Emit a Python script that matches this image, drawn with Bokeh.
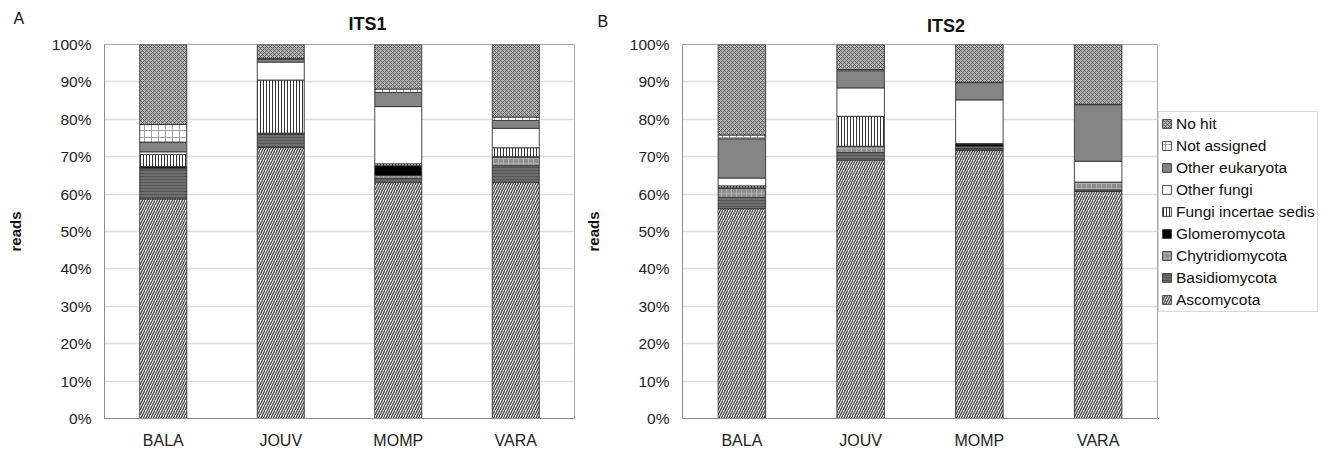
from bokeh.plotting import figure
from bokeh.models import (FactorRange, Range1d, FixedTicker, PrintfTickFormatter,
                          Legend, LegendItem, Title, ColumnDataSource)
from bokeh.layouts import row
from bokeh.embed import file_html
from bokeh.resources import INLINE

sites = ["BALA", "JOUV", "MOMP", "VARA"]
groups = ["Ascomycota", "Basidiomycota", "Chytridiomycota", "Glomeromycota",
          "Fungi incertae sedis", "Other fungi", "Other eukaryota",
          "Not assigned", "No hit"]
y_ticks = [0, 10, 20, 30, 40, 50, 60, 70, 80, 90, 100]

# ITS1 (percent of reads)
its1_ascomycota = [58.7, 72.5, 63.2, 63.2]
its1_basidiomycota = [8.1, 3.5, 1.0, 4.4]
its1_chytridiomycota = [0.2, 0.1, 0.8, 2.3]
its1_glomeromycota = [0.4, 0.2, 2.6, 0.1]
its1_fungi_incertae_sedis = [3.2, 14.2, 0.5, 2.4]
its1_other_fungi = [0.7, 4.8, 15.3, 5.2]
its1_other_eukaryota = [2.6, 0.7, 3.8, 2.1]
its1_not_assigned = [4.7, 0.3, 0.9, 0.9]
its1_no_hit = [21.4, 3.7, 11.9, 19.4]

# ITS2 (percent of reads)
its2_ascomycota = [56.1, 69.1, 71.7, 60.7]
its2_basidiomycota = [3.0, 2.0, 0.6, 0.4]
its2_chytridiomycota = [2.5, 1.6, 0.5, 2.0]
its2_glomeromycota = [0.1, 0.1, 0.6, 0.0]
its2_fungi_incertae_sedis = [0.5, 8.0, 0.1, 0.1]
its2_other_fungi = [2.1, 7.6, 11.7, 5.6]
its2_other_eukaryota = [10.5, 4.6, 4.6, 15.1]
its2_not_assigned = [1.0, 0.3, 0.1, 0.1]
its2_no_hit = [24.2, 6.7, 10.1, 16.0]

its1_series = [its1_ascomycota, its1_basidiomycota, its1_chytridiomycota,
               its1_glomeromycota, its1_fungi_incertae_sedis, its1_other_fungi,
               its1_other_eukaryota, its1_not_assigned, its1_no_hit]
its2_series = [its2_ascomycota, its2_basidiomycota, its2_chytridiomycota,
               its2_glomeromycota, its2_fungi_incertae_sedis, its2_other_fungi,
               its2_other_eukaryota, its2_not_assigned, its2_no_hit]

fills = ["#ffffff", "#6e6e6e", "#8e8e8e", "#000000", "#ffffff",
         "#ffffff", "#858585", "#ffffff", "#b4b4b4"]
hatches = ["/", "-", "+", " ", "|", " ", " ", "+", "x"]
hatch_colors = ["#4a4a4a", "#555555", "#b0b0b0", "#000000", "#333333",
                "#000000", "#000000", "#a0a0a0", "#5a5a5a"]
hatch_scales = [5, 3, 5, 12, 3, 12, 12, 7, 4]
hatch_weights = [1.4, 1, 1, 1, 1, 1, 1, 1, 1]

FONT = "Liberation Sans"
H = 453


def style_kwargs():
    return dict(fill_color=fills, hatch_pattern=hatches, hatch_color=hatch_colors,
                hatch_scale=hatch_scales, hatch_weight=hatch_weights,
                line_color="#333333", line_width=0.9)


def make_panel(series, right, title, title_offset, title_standoff, letter,
               letter_offset, letter_standoff, frame_w):
    keys = ["s%d" % i for i in range(len(groups))]
    data = {"site": sites}
    for k, s in zip(keys, series):
        data[k] = s
    src = ColumnDataSource(data)

    p = figure(x_range=FactorRange(factors=sites, range_padding=0),
               y_range=Range1d(0, 100), frame_width=frame_w, frame_height=374,
               output_backend="svg", toolbar_location=None,
               min_border_left=104, min_border_right=right,
               min_border_top=44, min_border_bottom=35)
    p.background_fill_color = "#ffffff"
    p.border_fill_color = "#ffffff"
    p.outline_line_color = "#a6a6a6"
    p.outline_line_width = 1

    p.vbar_stack(keys, x="site", width=0.4, source=src, **style_kwargs())

    p.xgrid.grid_line_color = None
    p.ygrid.grid_line_color = "#dcdcdc"
    p.ygrid.grid_line_width = 1.5

    p.yaxis.ticker = FixedTicker(ticks=y_ticks)
    p.yaxis.formatter = PrintfTickFormatter(format="%d%%")
    p.yaxis.major_tick_out = 0
    p.yaxis.major_tick_in = 0
    p.yaxis.minor_tick_out = 0
    p.yaxis.minor_tick_in = 0
    p.yaxis.major_label_standoff = 13
    p.yaxis.axis_line_color = "#8c8c8c"
    p.yaxis.major_label_text_font = FONT
    p.yaxis.major_label_text_font_size = "15.5px"
    p.yaxis.major_label_text_color = "#222222"
    p.yaxis.axis_label = "reads"
    p.yaxis.axis_label_text_font = FONT
    p.yaxis.axis_label_text_font_style = "bold"
    p.yaxis.axis_label_text_font_size = "15px"
    p.yaxis.axis_label_text_color = "#111111"
    p.yaxis.axis_label_standoff = 25

    p.xaxis.major_tick_out = 0
    p.xaxis.major_tick_in = 0
    p.xaxis.axis_line_color = "#8c8c8c"
    p.xaxis.major_label_standoff = 13
    p.xaxis.major_label_text_font = FONT
    p.xaxis.major_label_text_font_size = "16px"
    p.xaxis.major_label_text_color = "#222222"

    p.add_layout(Title(text=title, align="left", offset=title_offset,
                       text_font=FONT, text_font_style="bold",
                       text_font_size="18px", text_color="#111111",
                       standoff=title_standoff), "above")
    p.add_layout(Title(text=letter, align="left", offset=letter_offset,
                       text_font=FONT, text_font_style="normal",
                       text_font_size="16px", text_color="#111111",
                       standoff=letter_standoff), "above")
    return p


pa = make_panel(its1_series, 4, "ITS1", 244, 22, "A", -91, -53, 470)
pb = make_panel(its2_series, 1, "ITS2", 244.5, 18, "B", -85, -50, 475)

# legend panel (its own canvas, to the right of ITS2)
pl = figure(width=165, height=H, x_range=Range1d(0, 1), y_range=Range1d(0, 1),
            output_backend="svg", toolbar_location=None,
            x_axis_location=None, y_axis_location=None, min_border=0)
pl.outline_line_color = None
pl.grid.grid_line_color = None
pl.background_fill_color = "#ffffff"
pl.border_fill_color = "#ffffff"
keys = ["s%d" % i for i in range(len(groups))]
# one off-range row so that the legend swatches get the series styles
swatch = ColumnDataSource({"site": [-5.0], **{k: [0.0] for k in keys}})
lrs = pl.vbar_stack(keys, x="site", width=0.4, source=swatch, **style_kwargs())
items = [LegendItem(label=g, renderers=[r], index=0)
         for g, r in zip(groups, lrs)][::-1]
leg = Legend(items=items, location=(0, 106), orientation="vertical",
             padding=2, margin=0, spacing=3, label_height=19,
             glyph_height=11, glyph_width=11, label_standoff=4,
             label_text_font=FONT, label_text_font_size="15.5px",
             label_text_color="#111111",
             border_line_color="#b0b0b0", border_line_width=1,
             background_fill_color="#ffffff", background_fill_alpha=1)
pl.add_layout(leg)

layout = row(pa, pb, pl)
open("out.html", "w").write(file_html(layout, INLINE))
